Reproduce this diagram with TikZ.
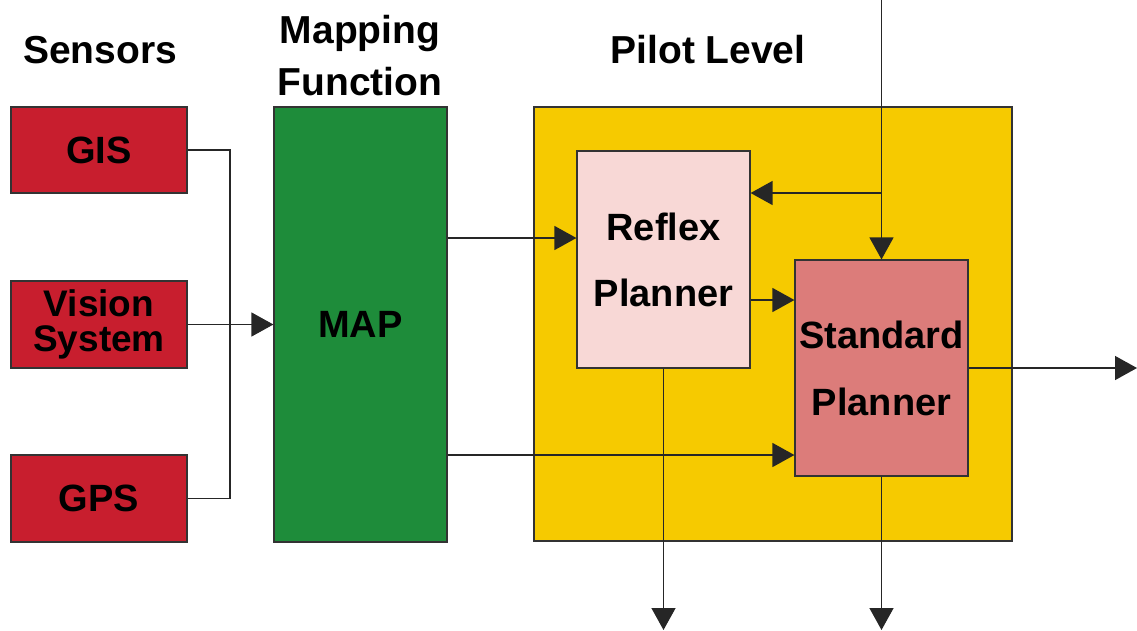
\documentclass[tikz,border=0pt]{standalone}
\usepackage{fontspec}
\setmainfont{Liberation Sans}
\usetikzlibrary{arrows.meta}
\definecolor{sensorred}{RGB}{200,30,46}
\definecolor{mapgreen}{RGB}{30,140,58}
\definecolor{pilotyellow}{RGB}{246,202,0}
\definecolor{reflexpink}{RGB}{248,216,214}
\definecolor{stdrose}{RGB}{220,124,122}
\begin{document}
\begin{tikzpicture}[x=1pt,y=-1pt,
  box/.style={draw=black!80, line width=1.2pt, rectangle, inner sep=0pt,
    align=center, font=\fontsize{38}{40}\selectfont\bfseries},
  title/.style={align=center, font=\fontsize{39}{52}\selectfont\bfseries},
  conn/.style={line width=1.4pt, draw=black!85},
  arr/.style={conn, -{Triangle[length=22pt,width=24pt]}}]
\useasboundingbox (0,0) rectangle (1137,630);

% column titles
\node[title] (tsens) at (100,50) {Sensors};
\node[title] (tmap) at (360,56) {Mapping\\Function};
\node[title] (tpilot) at (708,50) {Pilot Level};

% sensors
\node[box, fill=sensorred, minimum width=176pt, minimum height=86pt] (gis) at (99,150) {GIS};
\node[box, fill=sensorred, minimum width=176pt, minimum height=87pt,
  font=\fontsize{37}{35}\selectfont\bfseries] (vis) at (99,324.5) {Vision\\System};
\node[box, fill=sensorred, minimum width=176pt, minimum height=87pt] (gps) at (99,498.5) {GPS};

% mapping function
\node[box, fill=mapgreen, minimum width=173pt, minimum height=435pt] (map) at (360.5,324.5) {MAP};

% pilot level
\node[box, fill=pilotyellow, minimum width=478pt, minimum height=434pt] (pilot) at (773,324) {};
\node[box, fill=reflexpink, minimum width=173pt, minimum height=217pt,
  font=\fontsize{38}{66}\selectfont\bfseries] (reflex) at (663.5,259.5) {Reflex\\Planner};
\node[box, fill=stdrose, minimum width=173pt, minimum height=216pt,
  font=\fontsize{38}{67}\selectfont\bfseries] (std) at (881.5,368) {Standard\\Planner};

% helper levels and free ends
\coordinate (bus) at (230,324.5);
\coordinate (yA) at (0,238);
\coordinate (yB) at (0,300);
\coordinate (yC) at (0,455);
\coordinate (topin) at (881.5,0);
\coordinate (br) at (881.5,193);
\coordinate (outR) at (1137,368);
\coordinate (outA) at (663.5,630);

% sensor bus
\draw[conn] (gis.east) -| (bus) |- (gps.east);
\draw[arr] (vis.east) -- (map.west);

% map outputs
\draw[arr] (map.east |- yA) -- (reflex.west |- yA);
\draw[arr] (map.east |- yC) -- (std.west |- yC);

% planner links
\draw[arr] (reflex.east |- yB) -- (std.west |- yB);
\draw[arr] (topin) -- (std.north);
\draw[arr] (br) -- (reflex.east |- br);

% outputs
\draw[arr] (std.east) -- (outR);
\draw[arr] (reflex.south) -- (outA);
\draw[arr] (std.south) -- (std.south |- outA);
\end{tikzpicture}
\end{document}
